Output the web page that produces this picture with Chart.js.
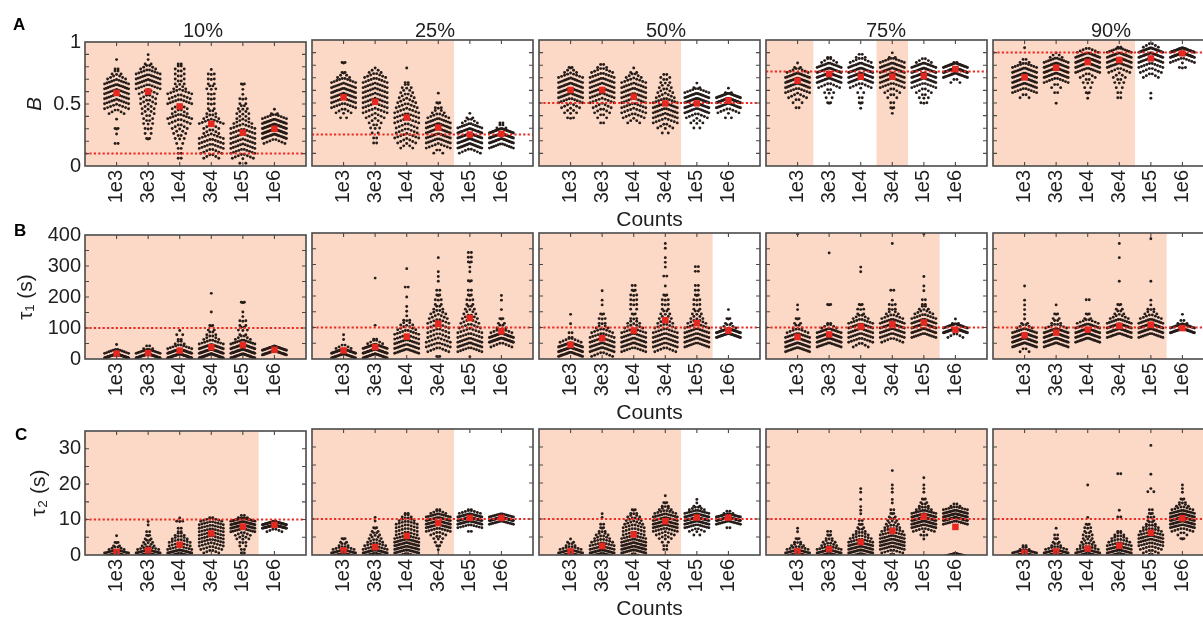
<!DOCTYPE html>
<html><head><meta charset="utf-8">
<script src="https://cdn.jsdelivr.net/npm/chart.js@4.4.1/dist/chart.umd.min.js"></script>
<style>
html,body{margin:0;padding:0;background:#fff;overflow:hidden;}
#wrap{position:relative;width:1203px;height:619px;overflow:hidden;background:#fff;}
#wrap canvas{position:absolute;}
.lbl{position:absolute;font-family:'Liberation Sans',Arial,sans-serif;color:#1f1f1f;white-space:nowrap;}
</style></head><body><div id="wrap"></div>
<script>
// ---------------- data ----------------
const CATEGORIES = ['1e3','3e3','1e4','3e4','1e5','1e6'];
const PERCENTS = ['10%','25%','50%','75%','90%'];
const TRUE_B = [0.1,0.25,0.5,0.75,0.9];
const TRUE_TAU1 = 100;
const TRUE_TAU2 = 10;
const Y_TICKS_A = [0,0.5,1];
const Y_TICKS_B = [0,100,200,300,400];
const Y_TICKS_C = [0,10,20,30];
// row values of each swarm: lowest row value (_LO) and dot counts per row going up (_N)
const STEP_A = 0.04, STEP_B = 15, STEP_C = 1;

const A10_LO = [0.20,0.20,0.08,0.08,0.04,0.20];
const A10_N = [
 [2,1,1,2,1,0,6,9,11,12,13,14,11,7,4,2,1],
 [1,2,3,3,4,4,5,5,6,6,7,10,13,12,10,6,3,1],
 [2,2,2,3,4,5,6,8,10,6,6,10,8,9,5,4,4,4,4,2],
 [6,8,10,10,9,6,6,9,6,4,3,3,3,3,4,3,3,3],
 [3,8,10,11,11,11,10,9,7,5,5,4,3,3,1,1,2],
 [8,20,28,26,18,10,3]];
const A10_MEAN = [0.59,0.60,0.48,0.34,0.27,0.30];

const A25_LO = [0.40,0.20,0.16,0.12,0.12,0.16];
const A25_N = [
 [3,6,10,12,13,14,13,10,5,2,1,2],
 [2,2,3,4,5,7,9,10,11,11,11,11,10,8,5],
 [5,7,9,8,8,9,10,9,8,7,6,5,4,2,0,1],
 [4,9,12,14,15,14,12,8,5,3,2,1],
 [8,20,20,22,20,12,6,3],
 [12,24,30,26,4,2]];
const A25_MEAN = [0.545,0.51,0.385,0.305,0.25,0.255];

const A50_LO = [0.36,0.36,0.36,0.28,0.32,0.40];
const A50_N = [
 [1,3,5,7,10,13,15,15,13,9,5,2],
 [2,4,6,7,9,11,13,13,12,10,8,4],
 [5,8,9,10,11,12,12,11,9,6,3],
 [3,6,9,11,12,13,10,7,6,5,4,4],
 [3,5,8,14,20,22,18,10,3],
 [3,8,18,30,24,3]];
const A50_MEAN = [0.603,0.603,0.55,0.497,0.497,0.52];

const A75_LO = [0.48,0.48,0.44,0.40,0.48,0.68];
const A75_N = [
 [2,4,7,10,14,18,16,8,3],
 [1,2,3,4,8,16,20,18,14,6,2],
 [1,1,2,2,3,8,16,20,18,14,8,4],
 [1,1,2,2,4,6,10,13,15,15,14,10,3],
 [1,3,4,6,10,16,20,20,16,6],
 [4,20,34,26,2]];
const A75_MEAN = [0.677,0.73,0.709,0.709,0.714,0.77];

const A90_LO = [0.56,0.48,0.52,0.56,0.52,0.76];
const A90_N = [
 [4,10,14,16,16,14,10,4,0,1],
 [1,0,0,2,4,10,16,18,18,12,5],
 [1,1,2,3,4,6,12,18,20,16,8],
 [2,2,3,4,5,8,14,18,18,12,2],
 [1,1,0,0,0,6,8,10,14,22,22,6],
 [1,3,10,34,34]];
const A90_MEAN = [0.704,0.78,0.825,0.841,0.854,0.894];

const B10_LO = [10,10,10,10,10,20];
const B10_N = [
 [45,12,1],
 [40,18,4],
 [40,30,10,4,2,3],
 [35,30,18,10,6,4,3,2,0,1,0,0,0,1],
 [30,30,20,12,6,3,4,3,3,1,0,1,2],
 [30,25]];
const B10_MEAN = [17,19,27,38,45,29.5];

const B25_LO = [10,10,25,0,0,45];
const B25_N = [
 [25,30,6,1,1],
 [25,30,18,6,2,0,1,0,0,0,0,0,0,0,0,0,1],
 [14,14,12,10,10,7,5,3,1,1,0,1,0,0,2,0,0,1],
 [1,2,8,10,9,8,8,8,8,7,6,4,3,3,2,2,1,1,1,0,0,1],
 [1,0,10,14,12,10,9,8,7,6,5,4,3,3,2,2,1,2,1,1,1,2,2,2],
 [8,30,22,8,4,3,2,1,0,1,1]];
const B25_MEAN = [27,38,71,112,130,88];

const B50_LO = [15,15,30,30,45,75];
const B50_N = [
 [20,28,22,8,2,2,1,0,1],
 [8,14,14,12,10,8,5,3,3,2,1,1,0,1],
 [10,14,14,12,10,7,5,3,2,3,3,3,3,2,2],
 [8,12,12,12,10,8,6,5,4,3,3,3,2,1,0,0,2,1,1,1,0,1,1],
 [12,14,12,12,10,7,5,4,3,3,3,2,2,2,0,0,2,2],
 [30,30,6,3,2,1]];
const B50_MEAN = [45,66,90,123,114,90];

const B75_LO = [30,45,45,60,75,75];
const B75_N = [
 [14,18,16,12,8,4,3,2,1,1,0,0,0,0,0,0,0,0,0,0,0,0,0,0,1],
 [14,18,18,14,6,2,0,0,1,2,0,0,0,0,0,0,0,0,0,1],
 [6,10,12,12,12,10,6,3,3,2,0,0,0,0,0,1,1],
 [8,12,14,14,12,8,5,3,3,0,0,2,0,0,0,0,0,0,0,0,1],
 [12,16,18,14,10,7,4,2,2,1,1,0,1,0,0,0,0,0,0,0,0,1],
 [6,34,20,3]];
const B75_MEAN = [70,78,103,111,116,93];

const B90_LO = [30,45,60,75,75,90];
const B90_N = [
 [4,18,24,20,12,6,3,1,1,1,1,0,0,1],
 [14,20,20,16,8,4,3,2,1],
 [16,20,20,14,8,3,2,0,0,2],
 [14,20,18,12,7,4,3,2,0,0,0,1,0,0,0,0,1,0,0,1],
 [12,18,18,14,8,5,3,1,0,0,0,1,0,0,0,0,0,0,0,0,1],
 [30,20,4,1]];
const B90_MEAN = [75,84,93,105,109,98];

const C10_LO = [0,0,0,0,0,7];
const C10_N = [
 [40,16,6,3,2,1],
 [40,20,8,5,4,3,2,2,1,1],
 [35,20,10,8,8,6,4,2,2,1,3],
 [2,6,8,9,10,10,10,10,10,10,8,2],
 [1,2,2,3,3,5,6,12,20,22,20,4],
 [6,40,36,2]];
const C10_MEAN = [0.84,1.3,2.9,6.1,8.0,8.5];

const C25_LO = [0,0,0,1,7,9];
const C25_N = [
 [40,18,8,4,3,2],
 [35,20,10,8,6,5,4,3,2,1,1],
 [10,14,16,16,14,10,8,8,8,8,6,4,2],
 [1,1,2,3,4,6,10,14,16,16,12,6,2],
 [2,10,22,28,20,8,2],
 [14,40,14]];
const C25_MEAN = [1.3,2.2,5.3,8.9,10.3,10.3];

const C50_LO = [0,0,0,2,6,8];
const C50_N = [
 [40,16,8,4,3],
 [30,20,12,10,8,6,5,3,2,2,1,1],
 [6,14,18,16,12,10,8,8,8,7,6,5,3,2],
 [2,2,3,5,7,10,14,16,14,12,8,5,3,2,1],
 [3,6,12,18,24,20,12,6,3,1],
 [2,14,34,22,4]];
const C50_MEAN = [1.0,2.5,5.7,9.35,10.4,10.4];

const C75_LO = [0,0,0,0,4,0];
const C75_N = [
 [40,16,8,5,3,2,1,1],
 [35,18,10,6,5,3,2,2],
 [14,18,16,14,10,8,6,4,3,2,2,1,1,1,0,1,0,1,1],
 [4,8,12,14,14,12,10,8,6,5,4,3,2,2,1,1,0,1,1,1,0,0,0,1],
 [1,1,3,8,14,18,20,18,12,6,4,3,2,1,1,1,0,1],
 [30,0,0,0,0,0,0,0,0,12,24,24,18,10,4]];
const C75_MEAN = [1.0,1.6,3.6,6.7,10.7,7.8];

const C90_LO = [0,0,0,0,0,4];
const C90_N = [
 [50,14,4,2],
 [40,18,8,4,3,2,2,1],
 [40,14,8,6,5,4,4,3,3,2,1,0,0,0,0,0,0,0,0,1],
 [20,16,14,10,8,6,4,2,0,0,0,2,1,0,0,0,0,0,0,0,0,0,0,2],
 [4,6,8,10,12,12,10,8,6,4,3,3,2,2,0,0,0,0,3,0,0,0,1,0,0,0,0,0,0,0,1],
 [1,2,4,8,14,18,20,18,14,8,5,3,2,1,1,1]];
const C90_MEAN = [0.65,1.0,1.75,2.6,6.2,10.2];

// categories on a shaded background, per panel
const SHADE_A = [[1,2,3,4,5,6],[1,2,3,4],[1,2,3,4],[1,4],[1,2,3,4]];
const SHADE_B = [[1,2,3,4,5,6],[1,2,3,4,5,6],[1,2,3,4,5],[1,2,3,4,5],[1,2,3,4,5]];
const SHADE_C = [[1,2,3,4,5],[1,2,3,4],[1,2,3,4],[1,2,3,4,5,6],[1,2,3,4,5,6]];

// ---------------- layout & style ----------------
const FONT = "'Liberation Sans', Arial, Helvetica, sans-serif";
const TXT = '#1f1f1f';
const SHADE_COLOR = '#fcd9c6';
const DOT = '#261c19';
const RED_LINE = '#ee2a23';
const RED_MEAN = '#e52820';
const BORDER = '#4a4a4a';
const PLOT_LEFT = [85,312,539,766,993];
const PLOT_TOP = [40,233,429];
const PLOT_W = 221, PLOT_H = 126;
const X_MAX = 7;
const X_PER_PX = X_MAX / PLOT_W;
const DOT_GAP_PX = 3.0, MAX_SWARM_PX = 24, ARC = 0.9;

Chart.defaults.font.family = FONT;
Chart.defaults.color = TXT;

const ROW_SPECS = [
 {lo:[A10_LO,A25_LO,A50_LO,A75_LO,A90_LO], n:[A10_N,A25_N,A50_N,A75_N,A90_N],
  mean:[A10_MEAN,A25_MEAN,A50_MEAN,A75_MEAN,A90_MEAN], truth:c=>TRUE_B[c], step:STEP_A,
  min:0, max:1, yticks:Y_TICKS_A, minor:0.1, ytitle:'B', italic:true, tpad:23, shade:SHADE_A},
 {lo:[B10_LO,B25_LO,B50_LO,B75_LO,B90_LO], n:[B10_N,B25_N,B50_N,B75_N,B90_N],
  mean:[B10_MEAN,B25_MEAN,B50_MEAN,B75_MEAN,B90_MEAN], truth:c=>TRUE_TAU1, step:STEP_B,
  min:0, max:400, yticks:Y_TICKS_B, minor:50, ytitle:'τ₁ (s)', italic:false, tpad:14, shade:SHADE_B},
 {lo:[C10_LO,C25_LO,C50_LO,C75_LO,C90_LO], n:[C10_N,C25_N,C50_N,C75_N,C90_N],
  mean:[C10_MEAN,C25_MEAN,C50_MEAN,C75_MEAN,C90_MEAN], truth:c=>TRUE_TAU2, step:STEP_C,
  min:0, max:35, yticks:Y_TICKS_C, minor:5, ytitle:'τ₂ (s)', italic:false, tpad:27, shade:SHADE_C}
];

function swarmPoints(lo, counts, step, cat) {
  const pts = [];
  counts.forEach((n, k) => {
    const v = lo + k * step;
    const half = (n - 1) / 2;
    const gap = n > 1 ? Math.min(DOT_GAP_PX, MAX_SWARM_PX / (n - 1)) : 0;
    for (let j = 0; j < n; j++) {
      const rel = n > 1 ? (j - half) / half : 0;
      pts.push({x: cat + (j - half) * gap * X_PER_PX, y: v + step * ARC * (0.5 - Math.abs(rel))});
    }
  });
  return pts;
}

function runs(list) {
  const r = [];
  list.forEach(i => { const last = r[r.length-1]; if (last && last[1] === i-1) last[1] = i; else r.push([i,i]); });
  return r;
}

const panelDeco = {
  id: 'panelDeco',
  beforeDatasetsDraw(chart, args, opts) {
    const {ctx, chartArea: a, scales: {x}} = chart;
    ctx.save();
    ctx.beginPath(); ctx.rect(a.left, a.top, a.width, a.height); ctx.clip();
    ctx.fillStyle = SHADE_COLOR;
    runs(opts.shade).forEach(([s, e]) => {
      const x0 = x.getPixelForValue(s === 1 ? 0 : s - 0.5);
      const x1 = x.getPixelForValue(e === CATEGORIES.length ? X_MAX : e + 0.5);
      ctx.fillRect(x0, a.top, x1 - x0, a.height);
    });
    ctx.restore();
  },
  afterDraw(chart, args, opts) {
    const {ctx, chartArea: a, scales: {x, y}} = chart;
    ctx.save();
    ctx.strokeStyle = BORDER; ctx.lineWidth = 1.1;
    ctx.beginPath();
    const nMinor = Math.round((y.max - y.min) / opts.minor);
    for (let k = 1; k < nMinor; k++) {
      const py = y.getPixelForValue(y.min + k * opts.minor);
      ctx.moveTo(a.left, py); ctx.lineTo(a.left + 4, py);
      ctx.moveTo(a.right, py); ctx.lineTo(a.right - 4, py);
    }
    CATEGORIES.forEach((_, i) => {
      const px = x.getPixelForValue(i + 1);
      ctx.moveTo(px, a.top); ctx.lineTo(px, a.top + 4);
      ctx.moveTo(px, a.bottom); ctx.lineTo(px, a.bottom - 4);
    });
    ctx.stroke();
    ctx.lineWidth = 1.6;
    ctx.strokeRect(a.left, a.top, a.width, a.height);
    ctx.restore();
  }
};

const wrap = document.getElementById('wrap');

ROW_SPECS.forEach((row, r) => {
  for (let c = 0; c < 5; c++) {
    const padL = c === 0 ? 85 : 6, padR = 6, padT = 14, padB = 67;
    const W = padL + PLOT_W + padR, H = padT + PLOT_H + padB;
    const cv = document.createElement('canvas');
    cv.width = W; cv.height = H;
    cv.style.left = (PLOT_LEFT[c] - padL) + 'px';
    cv.style.top = (PLOT_TOP[r] - padT) + 'px';
    cv.style.width = W + 'px'; cv.style.height = H + 'px';
    wrap.appendChild(cv);

    let dots = [];
    CATEGORIES.forEach((_, i) => {
      dots = dots.concat(swarmPoints(row.lo[c][i], row.n[c][i], row.step, i + 1));
    });
    const means = row.mean[c].map((m, i) => ({x: i + 1, y: m}));
    const t = row.truth(c);

    new Chart(cv, {
      type: 'scatter',
      data: {datasets: [
        {data: dots, pointRadius: 1.45, pointBackgroundColor: DOT, pointBorderWidth: 0, order: 3},
        {data: [{x: 0, y: t}, {x: X_MAX, y: t}], showLine: true, borderColor: RED_LINE,
         borderWidth: 2, borderDash: [2.2, 2.2], pointRadius: 0, order: 2},
        {data: means, pointStyle: 'rect', pointRadius: 4.6, pointBackgroundColor: RED_MEAN,
         pointBorderWidth: 0, order: 1}
      ]},
      options: {
        responsive: false, animation: false, events: [],
        layout: {padding: {left: 0, right: padR, top: padT, bottom: 0}},
        plugins: {legend: {display: false}, tooltip: {enabled: false},
                  panelDeco: {shade: row.shade[c], minor: row.minor}},
        scales: {
          x: {type: 'linear', min: 0, max: X_MAX,
              afterBuildTicks: s => { s.ticks = CATEGORIES.map((_, i) => ({value: i + 1})); },
              afterFit: s => { s.height = padB; },
              grid: {display: false, drawTicks: false}, border: {display: false},
              ticks: {autoSkip: false, minRotation: 90, maxRotation: 90, padding: 4, color: TXT,
                      font: {family: FONT, size: 20}, callback: v => CATEGORIES[v - 1] ?? ''},
              title: {display: c === 2, text: 'Counts', color: TXT, font: {family: FONT, size: 21}, padding: 0}},
          y: {type: 'linear', min: row.min, max: row.max,
              afterBuildTicks: s => { s.ticks = row.yticks.map(v => ({value: v})); },
              afterFit: s => { s.width = padL; },
              grid: {display: false, drawTicks: false}, border: {display: false},
              ticks: {display: c === 0, padding: 4, color: TXT, font: {family: FONT, size: 20},
                      callback: v => String(v)},
              title: {display: c === 0, text: row.ytitle, color: TXT,
                      font: {family: FONT, size: 21, style: row.italic ? 'italic' : 'normal'},
                      padding: {top: row.tpad, bottom: 0}}}
        }
      },
      plugins: [panelDeco]
    });
  }
});

// column titles and panel letters
const TITLE_X = [203,435,666,886,1111];
PERCENTS.forEach((p, c) => {
  const d = document.createElement('div');
  d.className = 'lbl';
  d.textContent = p;
  d.style.cssText += `left:${TITLE_X[c]-50}px;top:20px;width:100px;text-align:center;font-size:20px;line-height:20px;`;
  wrap.appendChild(d);
});
[['A',13,16],['B',14,222],['C',15,426]].forEach(([t, lx, ty]) => {
  const d = document.createElement('div');
  d.className = 'lbl';
  d.textContent = t;
  d.style.cssText += `left:${lx}px;top:${ty}px;font-size:17px;line-height:17px;font-weight:bold;color:#000;`;
  wrap.appendChild(d);
});
</script>
</body></html>
